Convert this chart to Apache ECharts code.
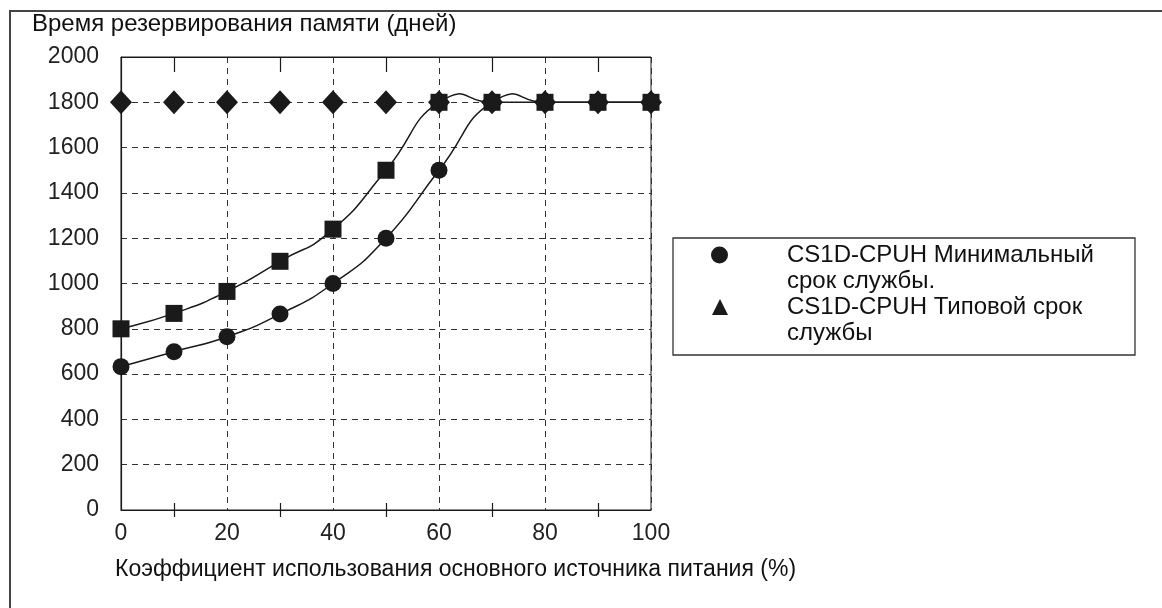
<!DOCTYPE html>
<html>
<head>
<meta charset="utf-8">
<script src="https://cdn.jsdelivr.net/npm/echarts@6/dist/echarts.min.js"></script>
<style>
  html, body {
    margin: 0;
    padding: 0;
    background: #fff;
  }
  #chart {
    width: 1162px;
    height: 608px;
  }
</style>
</head>
<body>
<div id="chart"></div>
<script>
  // коэффициент использования, %
  var loadPercent = [0, 10, 20, 30, 40, 50, 60, 70, 80, 90, 100];
  // ромбы
  var maxDays = [1800, 1800, 1800, 1800, 1800, 1800, 1800, 1800, 1800, 1800, 1800];
  // квадраты (типовой срок)
  var typicalDays = [800, 868, 965, 1098, 1240, 1500, 1800, 1800, 1800, 1800, 1800];
  // кружки (минимальный срок)
  var minDays = [633, 699, 765, 865, 1000, 1200, 1500, 1800, 1800, 1800, 1800];

  var yTitle = 'Время резервирования памяти (дней)';
  var xTitle = 'Коэффициент использования основного источника питания (%)';
  var legendLines = [
    ['CS1D-CPUH Минимальный', 'срок службы.'],
    ['CS1D-CPUH Типовой срок', 'службы']
  ];

  var FONT = '"Liberation Sans", Arial, sans-serif';
  var INK = '#1a1a1a';

  function pairs(ys) {
    return loadPercent.map(function (x, i) {
      return [x, ys[i]];
    });
  }

  // гладкая кривая через точки (как в Excel), по одному сегменту на точку
  function curveRenderer(ys) {
    var t = 0.28;
    return function (params, api) {
      var i = params.dataIndex;
      var n = loadPercent.length;
      if (i >= n - 1) return null;
      var pt = function (k) {
        k = Math.max(0, Math.min(n - 1, k));
        return api.coord([loadPercent[k], ys[k]]);
      };
      var p0 = pt(i - 1), p1 = pt(i), p2 = pt(i + 1), p3 = pt(i + 2);
      return {
        type: 'bezierCurve',
        shape: {
          x1: p1[0], y1: p1[1],
          x2: p2[0], y2: p2[1],
          cpx1: p1[0] + (p2[0] - p0[0]) * t,
          cpy1: p1[1] + (p2[1] - p0[1]) * t,
          cpx2: p2[0] - (p3[0] - p1[0]) * t,
          cpy2: p2[1] - (p3[1] - p1[1]) * t
        },
        style: {
          stroke: INK,
          lineWidth: 1.5,
          fill: null
        }
      };
    };
  }

  var chart = echarts.init(document.getElementById('chart'));
  chart.setOption({
    animation: false,
    grid: {
      left: 121,
      top: 57,
      width: 530,
      height: 453,
      show: true,
      borderColor: INK,
      borderWidth: 1
    },
    xAxis: [{
        type: 'value',
        position: 'bottom',
        min: 0,
        max: 100,
        interval: 20,
        axisLine: { lineStyle: { color: INK, width: 1.2 } },
        axisTick: { show: false },
        minorTick: { show: true, splitNumber: 2, length: 7, lineStyle: { color: INK, width: 1.2 } },
        axisLabel: { fontFamily: FONT, fontSize: 23, color: '#222', margin: 12 },
        splitLine: { lineStyle: { color: '#333', type: [6, 5], width: 1 } }
      },
      {
        type: 'value',
        position: 'bottom',
        min: 0,
        max: 100,
        interval: 20,
        axisLine: { show: false },
        axisTick: { show: false, inside: true },
        minorTick: { show: true, splitNumber: 2, length: 7, lineStyle: { color: INK, width: 1.2 } },
        axisLabel: { show: false },
        splitLine: { show: false }
      },
      {
        type: 'value',
        position: 'top',
        min: 0,
        max: 100,
        interval: 20,
        axisLine: { lineStyle: { color: INK, width: 1.2 } },
        axisTick: { show: false, inside: true },
        minorTick: { show: true, splitNumber: 2, length: 15, lineStyle: { color: INK, width: 1.2 } },
        axisLabel: { show: false },
        splitLine: { show: false }
      }
    ],
    yAxis: {
      type: 'value',
      min: 0,
      max: 2000,
      interval: 200,
      axisLine: { show: true, lineStyle: { color: INK, width: 1.2 } },
      axisTick: { show: false },
      axisLabel: {
        fontFamily: FONT,
        fontSize: 23,
        color: '#222',
        margin: 22,
        formatter: function (v) {
          return String(v);
        }
      },
      splitLine: { lineStyle: { color: '#333', type: [6, 5], width: 1 } }
    },
    series: [{
        name: 'curveTypical',
        type: 'custom',
        renderItem: curveRenderer(typicalDays),
        data: pairs(typicalDays),
        encode: { x: 0, y: 1 },
        silent: true,
        z: 2
      },
      {
        name: 'curveMin',
        type: 'custom',
        renderItem: curveRenderer(minDays),
        data: pairs(minDays),
        encode: { x: 0, y: 1 },
        silent: true,
        z: 2
      },
      {
        name: 'max',
        type: 'line',
        data: pairs(maxDays),
        symbol: 'diamond',
        symbolSize: [22, 24],
        itemStyle: { color: INK },
        lineStyle: { width: 0, opacity: 0 },
        z: 3
      },
      {
        name: 'typical',
        type: 'line',
        data: pairs(typicalDays),
        symbol: 'rect',
        symbolSize: 17,
        itemStyle: { color: INK },
        lineStyle: { width: 0, opacity: 0 },
        z: 3
      },
      {
        name: 'min',
        type: 'line',
        data: pairs(minDays),
        symbol: 'circle',
        symbolSize: 17,
        itemStyle: { color: INK },
        lineStyle: { width: 0, opacity: 0 },
        z: 3
      }
    ],
    graphic: [
      // рамка
      {
        type: 'polyline',
        shape: { points: [[10, 608], [10, 11], [1162, 11]] },
        style: { stroke: '#444', lineWidth: 2, fill: null }
      },
      {
        type: 'text',
        left: 32,
        top: 12,
        style: { text: yTitle, font: '24px ' + FONT, fill: '#111' }
      },
      {
        type: 'text',
        left: 115,
        top: 558,
        style: { text: xTitle, font: '23px ' + FONT, fill: '#111' }
      },
      // легенда
      {
        type: 'rect',
        shape: { x: 673, y: 238, width: 462, height: 117 },
        style: { stroke: '#333', lineWidth: 1.3, fill: '#fff' }
      },
      {
        type: 'circle',
        shape: { cx: 719.5, cy: 255, r: 8.5 },
        style: { fill: INK }
      },
      {
        type: 'polygon',
        shape: { points: [[720, 299], [728, 315], [712, 315]] },
        style: { fill: INK }
      },
      {
        type: 'text',
        left: 787,
        top: 242,
        style: { text: legendLines[0].join('\n'), font: '24px ' + FONT, lineHeight: 26, fill: '#111' }
      },
      {
        type: 'text',
        left: 787,
        top: 294,
        style: { text: legendLines[1].join('\n'), font: '24px ' + FONT, lineHeight: 26, fill: '#111' }
      }
    ]
  });
</script>
</body>
</html>
